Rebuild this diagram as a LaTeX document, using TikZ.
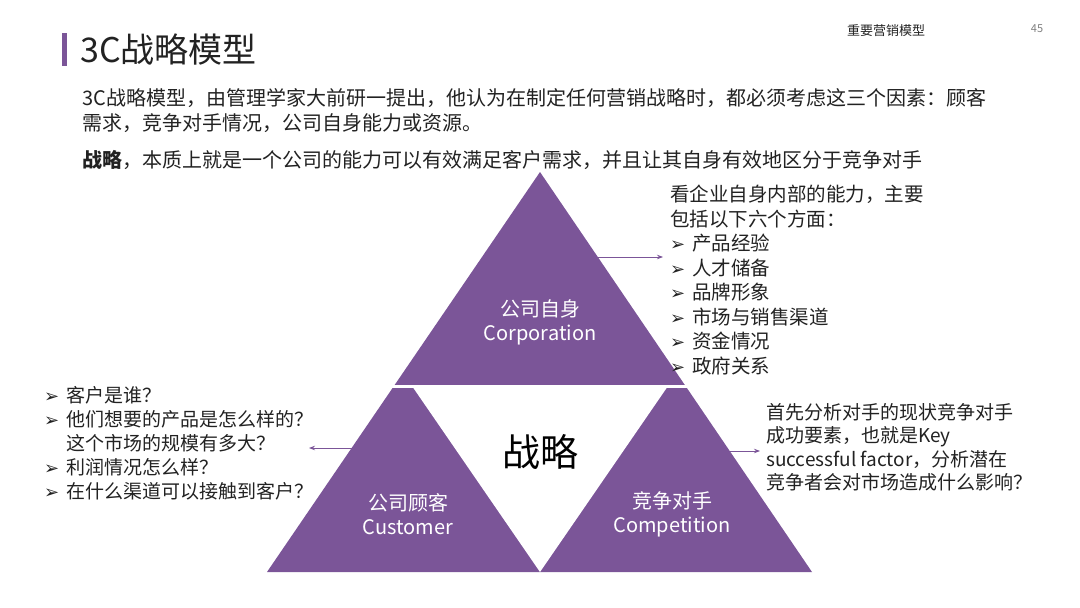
\documentclass[tikz,border=0pt]{standalone}
\usepackage{fontspec}
\setmainfont{Noto Sans CJK SC}
\newfontfamily\dv{DejaVu Sans}
\usetikzlibrary{arrows.meta}
\definecolor{pur}{HTML}{7B5598}
\definecolor{txt}{HTML}{222222}
\tikzset{body/.style={anchor=north west,align=left,font=\fontsize{19.5}{24.5}\selectfont,text=txt,inner sep=0},
arr/.style={draw=pur,-{Stealth[length=6pt]},line width=0.8pt},
lbl/.style={text=white,align=center,font=\fontsize{20}{24}\selectfont}}
\newcommand{\bul}{\makebox[22pt][l]{\dv\fontsize{18}{18}\selectfont ➢}}
\begin{document}
\begin{tikzpicture}[x=1pt,y=-1pt]
\useasboundingbox (0,0) rectangle (1080,608);
\fill[pur] (62,33) rectangle (67,66);
\node[anchor=west,font=\fontsize{34}{38}\selectfont,text=txt,inner sep=0] (title) at (80,50) {3C战略模型};
\node[font=\fontsize{13}{15}\selectfont,text=txt] (hdr) at (886,31) {重要营销模型};
\node[font=\itshape\fontsize{11}{13}\selectfont,text=gray] (pg) at (1037,29) {45};
\node[body,font=\fontsize{20}{25}\selectfont] (intro) at (82,88) {3C战略模型，由管理学家大前研一提出，他认为在制定任何营销战略时，都必须考虑这三个因素：顾客\\需求，竞争对手情况，公司自身能力或资源。};
\node[body,font=\fontsize{20}{25}\selectfont] (def) at (82,150) {\textbf{战略}，本质上就是一个公司的能力可以有效满足客户需求，并且让其自身有效地区分于竞争对手};
\fill[pur] (540,172) -- (812,572) -- (267,572) -- cycle;
\fill[white] (412,386) -- (668,386) -- (540,572) -- cycle;
\draw[white,line width=3pt] (392,386) -- (688,386);
\node[lbl] (corp) at (540,322) {公司自身\\Corporation};
\node[lbl] (cust) at (408,514) {公司顾客\\Customer};
\node[lbl] (comp) at (672,514) {竞争对手\\Competition};
\node[font=\fontsize{38}{42}\selectfont,text=black] (zl) at (540,452) {战略};
\coordinate (a1s) at (592,257);
\coordinate (a1e) at (663,257);
\draw[arr] (a1s) -- (a1e);
\node[body] (rtop) at (670,185) {看企业自身内部的能力，主要\\包括以下六个方面：\\\bul 产品经验\\\bul 人才储备\\\bul 品牌形象\\\bul 市场与销售渠道\\\bul 资金情况\\\bul 政府关系};
\coordinate (a2s) at (364,448);
\coordinate (a2e) at (309,448);
\draw[arr] (a2s) -- (a2e);
\node[body,font=\fontsize{19}{24}\selectfont] (left) at (44,386) {\bul 客户是谁？\\\bul 他们想要的产品是怎么样的？\\\phantom{\bul}这个市场的规模有多大？\\\bul 利润情况怎么样？\\\bul 在什么渠道可以接触到客户？};
\coordinate (a3s) at (716,451);
\coordinate (a3e) at (760,451);
\draw[arr] (a3s) -- (a3e);
\node[body,font=\fontsize{19}{23.5}\selectfont] (right) at (766,403) {首先分析对手的现状竞争对手\\成功要素，也就是Key\\successful factor，分析潜在\\竞争者会对市场造成什么影响？};
\end{tikzpicture}
\end{document}
